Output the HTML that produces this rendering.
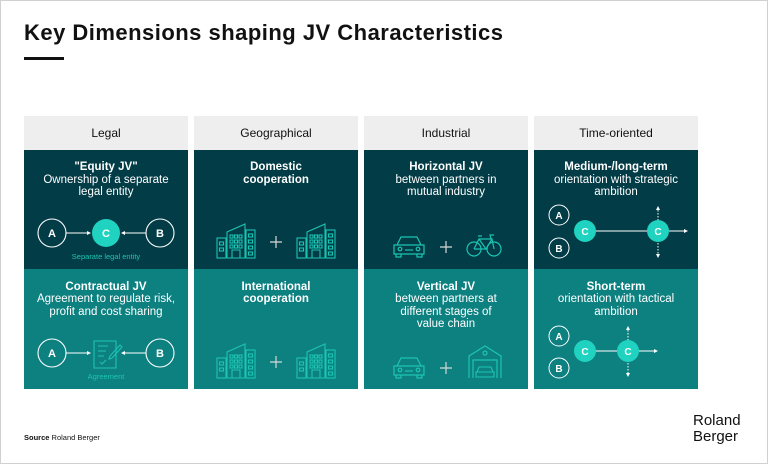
<!DOCTYPE html>
<html><head><meta charset="utf-8"><style>
html,body{margin:0;padding:0;background:#fff;}
body{width:768px;height:464px;overflow:hidden;position:relative;font-family:"Liberation Sans",sans-serif;}
svg text{font-family:"Liberation Sans",sans-serif;}
</style></head><body>
<svg width="768" height="464" viewBox="0 0 768 464" xmlns="http://www.w3.org/2000/svg">
<defs>
<g id="bld" fill="none" stroke="#1cc4b3" stroke-width="1.1">
  <rect x="0" y="14" width="9" height="20"/>
  <rect x="2.5" y="18" width="4" height="3"/><rect x="2.5" y="24" width="4" height="3"/>
  <path d="M10 34 V8 L28 0 V34 M10 34 H28 M15 34 V26 H23 V34"/>
  <rect x="13" y="11" width="3" height="3"/><rect x="17.5" y="11" width="3" height="3"/><rect x="22" y="11" width="3" height="3"/>
  <rect x="13" y="16" width="3" height="3"/><rect x="17.5" y="16" width="3" height="3"/><rect x="22" y="16" width="3" height="3"/>
  <rect x="13" y="21" width="3" height="3"/><rect x="17.5" y="21" width="3" height="3"/><rect x="22" y="21" width="3" height="3"/>
  <rect x="29" y="6" width="9" height="28"/>
  <rect x="31.5" y="10" width="4" height="3"/><rect x="31.5" y="16" width="4" height="3"/><rect x="31.5" y="22" width="4" height="3"/><rect x="31.5" y="28" width="4" height="3"/>
</g>
<g id="car" fill="none" stroke="#1cc4b3" stroke-width="1.2">
  <path d="M4 10 L8 2 H24 L28 10 M1 10 H31 V19 H1 Z M3 19 V22 H8 V19 M24 19 V22 H29 V19"/>
  <circle cx="7" cy="14" r="1.8"/><circle cx="25" cy="14" r="1.8"/><path d="M12 15 H20"/>
</g>
<g id="pls" stroke="#d8d8d8" stroke-width="1.2"><path d="M-6 0 H6 M0 -6 V6"/></g>
</defs>

<text x="24" y="40" font-size="22" font-weight="bold" fill="#111" textLength="479" lengthAdjust="spacing">Key Dimensions shaping JV Characteristics</text>
<rect x="24" y="57" width="40" height="3" fill="#111"/>

<g fill="#eeeeee">
<rect x="24" y="116" width="164" height="34"/><rect x="194" y="116" width="164" height="34"/>
<rect x="364" y="116" width="164" height="34"/><rect x="534" y="116" width="164" height="34"/>
</g>
<g font-size="12" fill="#111" text-anchor="middle">
<text x="106" y="137">Legal</text><text x="276" y="137">Geographical</text>
<text x="446" y="137">Industrial</text><text x="616" y="137">Time-oriented</text>
</g>
<g fill="#023c46">
<rect x="24" y="150" width="164" height="119"/><rect x="194" y="150" width="164" height="119"/>
<rect x="364" y="150" width="164" height="119"/><rect x="534" y="150" width="164" height="119"/>
</g>
<g fill="#0d8080">
<rect x="24" y="269" width="164" height="120"/><rect x="194" y="269" width="164" height="120"/>
<rect x="364" y="269" width="164" height="120"/><rect x="534" y="269" width="164" height="120"/>
</g>

<g font-size="11.5" fill="#fff" text-anchor="middle">
<text x="106" y="170" font-weight="bold">"Equity JV"</text>
<text x="106" y="183">Ownership of a separate</text><text x="106" y="195">legal entity</text>
<text x="106" y="290" font-weight="bold">Contractual JV</text>
<text x="106" y="302">Agreement to regulate risk,</text><text x="106" y="315">profit and cost sharing</text>
<text x="276" y="170" font-weight="bold">Domestic</text><text x="276" y="183" font-weight="bold">cooperation</text>
<text x="276" y="290" font-weight="bold">International</text><text x="276" y="302" font-weight="bold">cooperation</text>
<text x="446" y="170" font-weight="bold">Horizontal JV</text>
<text x="446" y="183">between partners in</text><text x="446" y="195">mutual industry</text>
<text x="446" y="290" font-weight="bold">Vertical JV</text>
<text x="446" y="302">between partners at</text><text x="446" y="315">different stages of</text><text x="446" y="327">value chain</text>
<text x="616" y="170" font-weight="bold">Medium-/long-term</text>
<text x="616" y="183">orientation with strategic</text><text x="616" y="195">ambition</text>
<text x="616" y="290" font-weight="bold">Short-term</text>
<text x="616" y="302">orientation with tactical</text><text x="616" y="315">ambition</text>
</g>

<g stroke="#fff" stroke-width="1.1" fill="none">
<circle cx="52" cy="233" r="14"/><circle cx="160" cy="233" r="14"/>
<path d="M66 233 H88 M146 233 H124"/>
<circle cx="52" cy="353" r="14"/><circle cx="160" cy="353" r="14"/>
<path d="M66 353 H88 M146 353 H124"/>
</g>
<g fill="#fff"><path d="M91 233 L87 231 V235Z M121 233 L125 231 V235Z M91 353 L87 351 V355Z M121 353 L125 351 V355Z"/></g>
<circle cx="106" cy="233" r="14" fill="#1fd3c0"/>
<g font-size="11" font-weight="bold" fill="#fff" text-anchor="middle">
<text x="52" y="237">A</text><text x="106" y="237">C</text><text x="160" y="237">B</text>
<text x="52" y="357">A</text><text x="160" y="357">B</text>
</g>
<text x="106" y="259" font-size="7.5" fill="#1cc4b3" text-anchor="middle">Separate legal entity</text>
<g fill="none" stroke="#1cc4b3" stroke-width="1.1">
<path d="M94 341 H116 V368 H94 Z M98 346 H108 M98 351 H106 M98 356 H104 M100 362 L102 364 L106 360 M110 356 L120 345 L122 347 L112 358 L109 359 Z"/>
</g>
<text x="106" y="379" font-size="7.5" fill="#1cc4b3" text-anchor="middle">Agreement</text>

<use href="#bld" x="217" y="224"/><use href="#pls" x="276" y="242"/><use href="#bld" x="297" y="224"/>
<use href="#bld" x="217" y="344"/><use href="#pls" x="276" y="362"/><use href="#bld" x="297" y="344"/>

<use href="#car" x="393" y="235"/><use href="#pls" x="446" y="247"/>
<g fill="none" stroke="#1cc4b3" stroke-width="1.2">
<circle cx="474" cy="249" r="7"/><circle cx="494" cy="249" r="7"/>
<path d="M474 249 L479 239 H492 L494 249 M479 239 L486 249 H474 M486 249 L492 239 M478 236 H482 M491 239 L490 235 H494"/>
</g>
<use href="#car" x="393" y="356"/><use href="#pls" x="446" y="368"/>
<g fill="none" stroke="#1cc4b3" stroke-width="1.2">
<path d="M469 378 V356 L485 346 L501 356 V378 M473 378 V360 H497 V378"/>
<circle cx="485" cy="353" r="2"/>
</g>
<g fill="none" stroke="#1cc4b3" stroke-width="1.1"><path d="M477 372 L479 367 H491 L493 372 M476 372 H494 V377 H476Z"/></g>

<g stroke="#fff" stroke-width="1" fill="none">
<circle cx="559" cy="215" r="10"/><circle cx="559" cy="248" r="10"/>
<path d="M585 231 H684"/><path d="M658 210 V254" stroke-dasharray="1.5 1.5"/>
<circle cx="559" cy="336" r="10"/><circle cx="559" cy="368" r="10"/>
<path d="M585 351 H654"/><path d="M628 330 V373" stroke-dasharray="1.5 1.5"/>
</g>
<g fill="#fff"><path d="M688 231 L684 229 V233Z M658 206 L656 210 H660Z M658 258 L656 254 H660Z M658 351 L654 349 V353Z M628 326 L626 330 H630Z M628 377 L626 373 H630Z"/></g>
<g fill="#1fd3c0"><circle cx="585" cy="231" r="11"/><circle cx="658" cy="231" r="11"/><circle cx="585" cy="351" r="11"/><circle cx="628" cy="351" r="11"/></g>
<g font-size="10" font-weight="bold" fill="#fff" text-anchor="middle">
<text x="559" y="219">A</text><text x="559" y="252">B</text><text x="585" y="235">C</text><text x="658" y="235">C</text>
<text x="559" y="340">A</text><text x="559" y="372">B</text><text x="585" y="355">C</text><text x="628" y="355">C</text>
</g>

<text x="24" y="440" font-size="7.5" fill="#111"><tspan font-weight="bold">Source</tspan> Roland Berger</text>
<text x="693" y="425" font-size="15" fill="#111">Roland</text>
<text x="693" y="441" font-size="15" fill="#111">Berger</text>
<rect x="0.5" y="0.5" width="767" height="463" fill="none" stroke="#d0d0d0"/>
</svg>
</body></html>
